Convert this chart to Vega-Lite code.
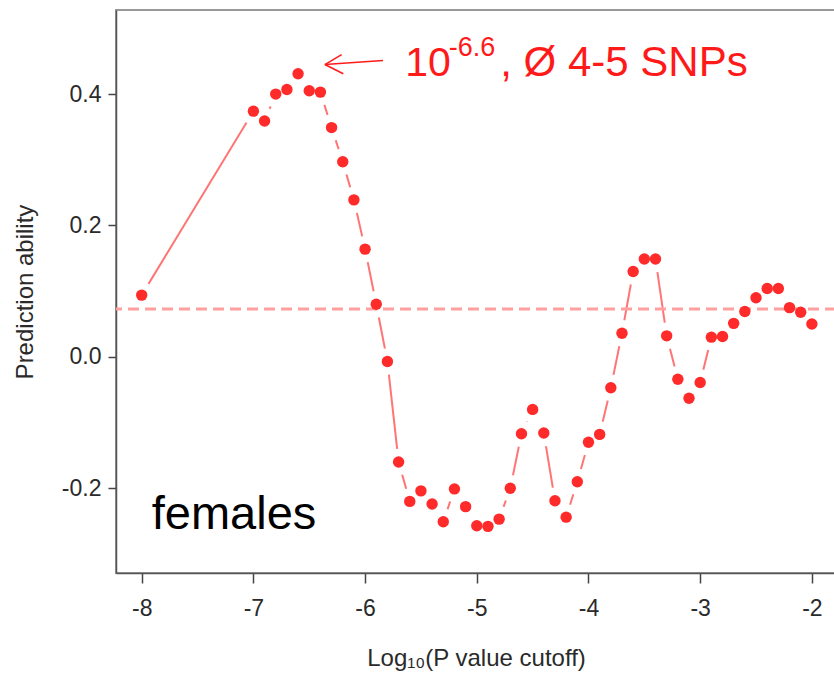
{
  "$schema": "https://vega.github.io/schema/vega-lite/v6.json",
  "width": 720,
  "height": 563,
  "autosize": "none",
  "padding": {"left": 116, "top": 10, "right": 0, "bottom": 105},
  "background": "white",
  "config": {
    "view": {"stroke": "#999999", "strokeWidth": 2},
    "font": "Liberation Sans",
    "axis": {"grid": false, "labelFont": "Liberation Sans", "titleFont": "Liberation Sans", "labelColor": "#2a2a2a", "titleColor": "#2a2a2a", "tickColor": "#444444", "domainColor": "#555555", "domainWidth": 1.5, "tickWidth": 1.5}
  },
  "data": {"values": [
    {"x": -8.0, "y": 0.094},
    {"x": -7.0, "y": 0.374},
    {"x": -6.9, "y": 0.359},
    {"x": -6.8, "y": 0.400},
    {"x": -6.7, "y": 0.407},
    {"x": -6.6, "y": 0.431},
    {"x": -6.5, "y": 0.405},
    {"x": -6.4, "y": 0.403},
    {"x": -6.3, "y": 0.349},
    {"x": -6.2, "y": 0.297},
    {"x": -6.1, "y": 0.239},
    {"x": -6.0, "y": 0.164},
    {"x": -5.9, "y": 0.080},
    {"x": -5.8, "y": -0.007},
    {"x": -5.7, "y": -0.160},
    {"x": -5.6, "y": -0.220},
    {"x": -5.5, "y": -0.204},
    {"x": -5.4, "y": -0.224},
    {"x": -5.3, "y": -0.251},
    {"x": -5.2, "y": -0.201},
    {"x": -5.1, "y": -0.228},
    {"x": -5.0, "y": -0.257},
    {"x": -4.9, "y": -0.258},
    {"x": -4.8, "y": -0.247},
    {"x": -4.7, "y": -0.200},
    {"x": -4.6, "y": -0.117},
    {"x": -4.5, "y": -0.080},
    {"x": -4.4, "y": -0.116},
    {"x": -4.3, "y": -0.219},
    {"x": -4.2, "y": -0.244},
    {"x": -4.1, "y": -0.190},
    {"x": -4.0, "y": -0.130},
    {"x": -3.9, "y": -0.118},
    {"x": -3.8, "y": -0.047},
    {"x": -3.7, "y": 0.036},
    {"x": -3.6, "y": 0.130},
    {"x": -3.5, "y": 0.149},
    {"x": -3.4, "y": 0.149},
    {"x": -3.3, "y": 0.032},
    {"x": -3.2, "y": -0.034},
    {"x": -3.1, "y": -0.063},
    {"x": -3.0, "y": -0.039},
    {"x": -2.9, "y": 0.030},
    {"x": -2.8, "y": 0.031},
    {"x": -2.7, "y": 0.051},
    {"x": -2.6, "y": 0.069},
    {"x": -2.5, "y": 0.090},
    {"x": -2.4, "y": 0.104},
    {"x": -2.3, "y": 0.104},
    {"x": -2.2, "y": 0.075},
    {"x": -2.1, "y": 0.068},
    {"x": -2.0, "y": 0.050}
  ]},
  "encoding": {
    "x": {"field": "x", "type": "quantitative",
      "scale": {"domain": [-8.23, -1.784], "nice": false, "zero": false},
      "axis": {"values": [-8, -7, -6, -5, -4, -3, -2], "labelExpr": "datum.value + ''", "labelFontSize": 23, "tickSize": 10, "labelPadding": 14, "title": "Log₁₀(P value cutoff)", "titleFontSize": 24, "titleFontWeight": "normal", "titlePadding": 26}},
    "y": {"field": "y", "type": "quantitative",
      "scale": {"domain": [-0.329, 0.528], "nice": false, "zero": false},
      "axis": {"values": [-0.2, 0, 0.2, 0.4], "labelExpr": "datum.value == 0 ? '0.0' : (datum.value < 0 ? '-' + format(-datum.value, '.1f') : format(datum.value, '.1f'))", "labelFontSize": 23, "tickSize": 8, "labelPadding": 7, "title": "Prediction ability", "titleFontSize": 24, "titleFontWeight": "normal", "titlePadding": 24}}
  },
  "layer": [
    {"mark": {"type": "line", "color": "#ff7575", "strokeWidth": 2}},
    {"mark": {"type": "point", "filled": true, "shape": "circle", "size": 700, "color": "white", "opacity": 1}},
    {"transform": [{"filter": "datum.x == -8"}],
     "mark": {"type": "rule", "color": "#ffa0a0", "strokeWidth": 3, "strokeDash": [11, 6]},
     "encoding": {"x": null, "y": {"datum": 0.073}}},
    {"mark": {"type": "point", "filled": true, "shape": "circle", "size": 130, "color": "#ff2a2a", "opacity": 1}},
    {"transform": [{"filter": "datum.x == -8"}],
     "mark": {"type": "rule", "color": "#ff1a1a", "strokeWidth": 1.5},
     "encoding": {"x": {"datum": -5.84}, "y": {"datum": 0.451}, "x2": {"datum": -6.36}, "y2": {"datum": 0.445}}},
    {"transform": [{"filter": "datum.x == -8"}],
     "mark": {"type": "rule", "color": "#ff1a1a", "strokeWidth": 1.5},
     "encoding": {"x": {"datum": -6.36}, "y": {"datum": 0.445}, "x2": {"datum": -6.21}, "y2": {"datum": 0.460}}},
    {"transform": [{"filter": "datum.x == -8"}],
     "mark": {"type": "rule", "color": "#ff1a1a", "strokeWidth": 1.5},
     "encoding": {"x": {"datum": -6.36}, "y": {"datum": 0.445}, "x2": {"datum": -6.195}, "y2": {"datum": 0.431}}},
    {"transform": [{"filter": "datum.x == -8"}],
     "mark": {"type": "text", "text": "10", "fontSize": 41, "align": "left", "baseline": "alphabetic", "fill": "#ff1a1a", "font": "Liberation Sans"},
     "encoding": {"x": {"datum": -5.64}, "y": {"datum": 0.428}}},
    {"transform": [{"filter": "datum.x == -8"}],
     "mark": {"type": "text", "text": "-6.6", "fontSize": 27, "align": "left", "baseline": "alphabetic", "fill": "#ff1a1a", "font": "Liberation Sans"},
     "encoding": {"x": {"datum": -5.25}, "y": {"datum": 0.458}}},
    {"transform": [{"filter": "datum.x == -8"}],
     "mark": {"type": "text", "text": ", Ø 4-5 SNPs", "fontSize": 42, "align": "left", "baseline": "alphabetic", "fill": "#ff1a1a", "font": "Liberation Sans"},
     "encoding": {"x": {"datum": -4.79}, "y": {"datum": 0.428}}},
    {"transform": [{"filter": "datum.x == -8"}],
     "mark": {"type": "text", "text": "females", "fontSize": 47, "align": "left", "baseline": "alphabetic", "fill": "black", "font": "Liberation Sans"},
     "encoding": {"x": {"datum": -7.91}, "y": {"datum": -0.2624}}}
  ]
}
